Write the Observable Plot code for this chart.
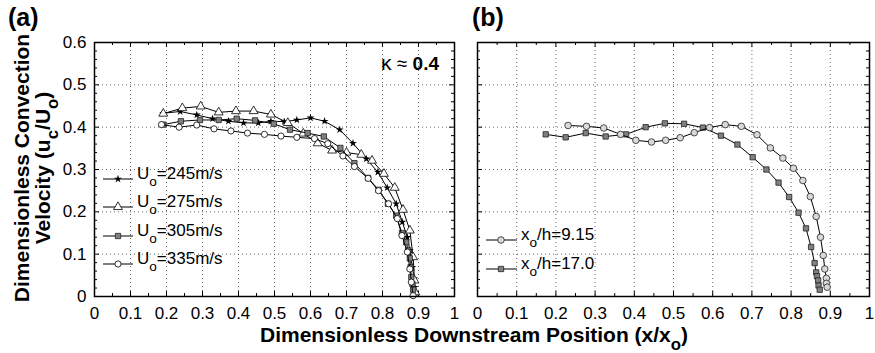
<!DOCTYPE html>
<html><head><meta charset="utf-8">
<script src="https://cdn.jsdelivr.net/npm/d3@7"></script>
<script src="https://cdn.jsdelivr.net/npm/@observablehq/plot@0.6"></script>
<style>
body{margin:0;background:#fff;}
#chart{position:relative;width:875px;height:353px;font-family:"Liberation Sans",Arial,Helvetica,sans-serif;color:#000;overflow:hidden;background:#fff}
#chart svg.plot{position:absolute;top:0}
.abs{position:absolute;white-space:nowrap;line-height:1}
.leg{font-size:17px}
sub{font-size:0.8em;vertical-align:-0.5em;line-height:0}
.ttl{font-weight:bold;font-size:21px}
</style>
</head><body>
<div id="chart"></div>
<script>
// ---------------- data ----------------
// Panel (a): convection velocity for four jet velocities
const a245x = [0.191,0.238,0.284,0.328,0.372,0.414,0.455,0.49,0.527,0.562,0.6,0.639,0.681,0.718,0.755,0.787,0.813,0.838,0.855,0.869,0.876,0.883,0.888,0.889,0.891];
const a245y = [0.433,0.437,0.429,0.42,0.414,0.41,0.41,0.414,0.413,0.417,0.422,0.414,0.394,0.362,0.325,0.294,0.257,0.219,0.176,0.14,0.109,0.069,0.042,0.022,0.01];
const a275x = [0.191,0.244,0.295,0.345,0.393,0.442,0.49,0.537,0.58,0.62,0.66,0.70,0.741,0.771,0.804,0.834,0.857,0.876,0.885,0.889,0.891];
const a275y = [0.432,0.445,0.449,0.435,0.438,0.438,0.43,0.41,0.385,0.362,0.345,0.34,0.335,0.321,0.29,0.257,0.205,0.156,0.093,0.038,0.01];
const a305x = [0.191,0.24,0.293,0.345,0.395,0.446,0.498,0.543,0.592,0.637,0.683,0.722,0.76,0.789,0.815,0.838,0.854,0.866,0.871,0.876,0.878,0.88,0.883,0.885];
const a305y = [0.406,0.414,0.417,0.417,0.42,0.416,0.408,0.394,0.386,0.378,0.351,0.315,0.28,0.252,0.219,0.191,0.15,0.128,0.109,0.09,0.069,0.046,0.03,0.016];
const a335x = [0.186,0.235,0.284,0.332,0.379,0.425,0.472,0.518,0.562,0.611,0.648,0.69,0.722,0.76,0.789,0.817,0.841,0.854,0.869,0.876,0.88,0.885];
const a335y = [0.406,0.4,0.405,0.396,0.391,0.386,0.383,0.379,0.376,0.373,0.361,0.332,0.307,0.279,0.25,0.219,0.184,0.144,0.105,0.065,0.034,0.002];
// Panel (b): two streamwise stations
const b915x = [0.231,0.278,0.322,0.365,0.404,0.444,0.48,0.517,0.553,0.592,0.632,0.673,0.713,0.747,0.779,0.806,0.83,0.849,0.864,0.875,0.882,0.886,0.89,0.89,0.892];
const b915y = [0.404,0.402,0.398,0.383,0.369,0.365,0.369,0.375,0.387,0.399,0.406,0.402,0.382,0.351,0.327,0.303,0.274,0.236,0.189,0.14,0.097,0.065,0.043,0.031,0.022];
const b170x = [0.174,0.225,0.276,0.327,0.379,0.429,0.478,0.527,0.575,0.621,0.663,0.702,0.737,0.768,0.795,0.819,0.838,0.851,0.86,0.864,0.866,0.869,0.87,0.873];
const b170y = [0.383,0.376,0.386,0.378,0.383,0.4,0.409,0.408,0.399,0.38,0.359,0.329,0.3,0.269,0.235,0.198,0.161,0.117,0.079,0.057,0.048,0.038,0.026,0.016];

// tick labels
const xTicks = [0,0.1,0.2,0.3,0.4,0.5,0.6,0.7,0.8,0.9,1];
const yTicks = [0,0.1,0.2,0.3,0.4,0.5,0.6];
const xMinor = d3.range(0.05, 1, 0.1);
const yMinor = d3.range(0.02, 0.6, 0.02).filter(v => Math.abs(v*10 - Math.round(v*10)) > 1e-6);

// text
const labelsA = ["245","275","305","335"];
const labelsB = ["9.15","17.0"];

// ---------------- helpers ----------------
const rows = (xs, ys) => xs.map((x, i) => ({x, y: ys[i]}));
const fmt = d => String(+d.toFixed(1));
const FONT = '"Liberation Sans", Arial, Helvetica, sans-serif';

const styles = {
  star:   {symbol: "star", r: 2.5, fill: "black", stroke: "none"},
  tri:    {symbol: "triangle", r: 3.3, fill: "white", stroke: "black", strokeWidth: 0.8},
  sq:     {symbol: "square", r: 3.0, fill: "#808080", stroke: "#222", strokeWidth: 0.8},
  circW:  {symbol: "circle", r: 3.1, fill: "white", stroke: "black", strokeWidth: 0.8},
  circG:  {symbol: "circle", r: 3.3, fill: "#d9d9d9", stroke: "#222", strokeWidth: 0.8}
};

function frameMarks(innerW, innerH, showY) {
  const grid = {stroke: "#666", strokeOpacity: 1, strokeDasharray: "1,3", strokeWidth: 1};
  return [
    Plot.gridX(xTicks.slice(1, -1), grid),
    Plot.gridY(yTicks.slice(1, -1), grid),
    // inward tick marks, bottom / top
    Plot.tickX(xTicks, {x: d => d, insetTop: innerH - 5, stroke: "black"}),
    Plot.tickX(xTicks, {x: d => d, insetBottom: innerH - 5, stroke: "black"}),
    Plot.tickX(xMinor, {x: d => d, insetTop: innerH - 3, stroke: "black"}),
    Plot.tickX(xMinor, {x: d => d, insetBottom: innerH - 3, stroke: "black"}),
    // inward tick marks, left / right
    Plot.tickY(yTicks, {y: d => d, insetRight: innerW - 5, stroke: "black"}),
    Plot.tickY(yTicks, {y: d => d, insetLeft: innerW - 5, stroke: "black"}),
    Plot.tickY(yMinor, {y: d => d, insetRight: innerW - 3, stroke: "black"}),
    Plot.tickY(yMinor, {y: d => d, insetLeft: innerW - 3, stroke: "black"}),
    Plot.axisX(xTicks, {tickSize: 0, tickPadding: 10, tickFormat: fmt, label: null, fontSize: 17}),
    ...(showY ? [Plot.axisY(yTicks, {tickSize: 0, tickPadding: 8, tickFormat: fmt, label: null, fontSize: 17})] : [])
  ];
}

function series(data, st) {
  return [
    Plot.line(data, {x: "x", y: "y", stroke: "black", strokeWidth: 1}),
    Plot.dot(data, {x: "x", y: "y", ...st})
  ];
}

const H = 353, MT = 42, MB = 57;

// ---------------- panel (a) ----------------
const WA = 470, MLA = 94, MRA = 16;
const plotA = Plot.plot({
  width: WA, height: H,
  marginLeft: MLA, marginRight: MRA, marginTop: MT, marginBottom: MB,
  x: {domain: [0, 1]}, y: {domain: [0, 0.6]},
  style: {fontFamily: FONT, fontSize: "17px", color: "black", background: "transparent", overflow: "visible"},
  marks: [
    ...frameMarks(WA - MLA - MRA, H - MT - MB, true),
    ...series(rows(a245x, a245y), styles.star),
    ...series(rows(a275x, a275y), styles.tri),
    ...series(rows(a305x, a305y), styles.sq),
    ...series(rows(a335x, a335y), styles.circW),
    Plot.frame({stroke: "black", strokeWidth: 1.5})
  ]
});
plotA.classList.add("plot");
plotA.style.left = "0px";

// ---------------- panel (b) ----------------
const WB = 405, MLB = 7, MRB = 6;
const plotB = Plot.plot({
  width: WB, height: H,
  marginLeft: MLB, marginRight: MRB, marginTop: MT, marginBottom: MB,
  x: {domain: [0, 1]}, y: {domain: [0, 0.6], axis: null},
  style: {fontFamily: FONT, fontSize: "17px", color: "black", background: "transparent", overflow: "visible"},
  marks: [
    ...frameMarks(WB - MLB - MRB, H - MT - MB, false),
    ...series(rows(b170x, b170y), styles.sq),
    ...series(rows(b915x, b915y), styles.circG),
    Plot.frame({stroke: "black", strokeWidth: 1.5})
  ]
});
plotB.classList.add("plot");
plotB.style.left = "470px";

const chart = document.getElementById("chart");
chart.append(plotA, plotB);

// ---------------- text & legends ----------------
function addDiv(html, css, cls = "abs") {
  const d = document.createElement("div");
  d.className = cls;
  d.innerHTML = html;
  Object.assign(d.style, css);
  chart.append(d);
  return d;
}
function legendSwatch(st, x0, x1, cx, cy) {
  const w = x1 - x0, h = 14;
  const svg = d3.create("svg").attr("width", w).attr("height", h)
    .style("position", "absolute").style("left", x0 + "px").style("top", (cy - h / 2) + "px").style("overflow", "visible");
  svg.append("line").attr("x1", 0).attr("x2", w).attr("y1", h / 2).attr("y2", h / 2).attr("stroke", "black").attr("stroke-width", 1);
  const sym = {star: d3.symbolStar, triangle: d3.symbolTriangle, square: d3.symbolSquare, circle: d3.symbolCircle}[st.symbol];
  svg.append("path").attr("d", d3.symbol(sym, Math.PI * st.r * st.r)())
    .attr("transform", `translate(${cx - x0},${h / 2})`)
    .attr("fill", st.fill).attr("stroke", st.stroke === "none" ? null : st.stroke)
    .attr("stroke-width", st.strokeWidth || null);
  chart.append(svg.node());
}

// legend (a)
const legAy = [179, 207, 236, 264];
const legASt = [styles.star, styles.tri, styles.sq, styles.circW];
labelsA.forEach((v, i) => {
  legendSwatch(legASt[i], 103, 133, 118, legAy[i]);
  addDiv(`U<sub>o</sub>=${v}m/s`, {left: "137px", top: (legAy[i] - 14.4) + "px"}, "abs leg");
});
// legend (b)
const legBy = [240, 269];
const legBSt = [styles.circG, styles.sq];
labelsB.forEach((v, i) => {
  legendSwatch(legBSt[i], 486, 517, 501, legBy[i]);
  addDiv(`x<sub>o</sub>/h=${v}`, {left: "521px", top: (legBy[i] - 14.4) + "px"}, "abs leg");
});

// panel letters
addDiv("(a)", {left: "8px", top: "5px", fontSize: "25px", fontWeight: "bold"});
addDiv("(b)", {left: "472px", top: "5px", fontSize: "25px", fontWeight: "bold"});
// kappa annotation
addDiv('<span style="font-size:21px">κ</span> ≈ <b>0.4</b>', {right: (875 - 439) + "px", top: "52px", fontSize: "19px"});
// x-axis title
addDiv("Dimensionless Downstream Position (x/x<sub>o</sub>)", {left: "474px", top: "324px", transform: "translateX(-50%)"}, "abs ttl");
// y-axis title (rotated, two lines)
addDiv("Dimensionless Convection<br>Velocity (u<sub>c</sub>/U<sub>o</sub>)",
  {left: "32px", top: "168px", transform: "translate(-50%,-50%) rotate(-90deg)", textAlign: "center", lineHeight: "21px"}, "abs ttl");
</script>
</body></html>
